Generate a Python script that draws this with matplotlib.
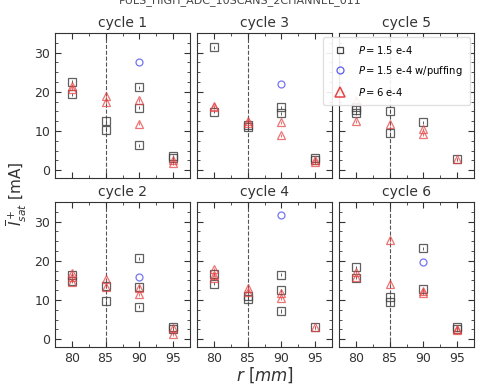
import matplotlib
matplotlib.use("Agg")
import matplotlib.pyplot as plt
from matplotlib.ticker import MultipleLocator
from matplotlib.lines import Line2D

# Data: per cycle, per series -> list of (r, value)
cycles = ["cycle 1", "cycle 3", "cycle 5", "cycle 2", "cycle 4", "cycle 6"]

sq_r = {
    "cycle 1": [80, 80, 85, 85, 90, 90, 90, 95, 95],
    "cycle 3": [80, 80, 85, 85, 90, 90, 95, 95],
    "cycle 5": [80, 80, 80, 85, 85, 90, 95],
    "cycle 2": [80, 80, 85, 85, 90, 90, 90, 95, 95],
    "cycle 4": [80, 80, 85, 85, 90, 90, 90, 95],
    "cycle 6": [80, 80, 85, 85, 90, 90, 95, 95],
}
sq_v = {
    "cycle 1": [22.6, 19.4, 12.6, 10.2, 21.1, 15.9, 6.3, 3.5, 3.0],
    "cycle 3": [31.3, 14.9, 11.5, 10.9, 16.0, 14.5, 3.0, 2.5],
    "cycle 5": [16.0, 15.3, 14.6, 15.0, 9.4, 12.2, 2.8],
    "cycle 2": [16.4, 14.9, 13.6, 9.7, 20.6, 13.4, 8.3, 3.0, 2.5],
    "cycle 4": [16.6, 14.1, 11.0, 10.2, 16.4, 12.5, 7.2, 3.0],
    "cycle 6": [18.3, 15.7, 10.8, 9.5, 23.2, 12.7, 3.0, 2.5],
}
ci_r = {c: [90] for c in cycles}
ci_r["cycle 5"] = []
ci_v = {
    "cycle 1": [27.7],
    "cycle 3": [22.1],
    "cycle 5": [],
    "cycle 2": [15.9],
    "cycle 4": [31.7],
    "cycle 6": [19.8],
}
tr_r = {
    "cycle 1": [80, 80, 85, 85, 90, 90, 95, 95],
    "cycle 3": [80, 80, 85, 85, 90, 90, 95, 95],
    "cycle 5": [80, 80, 85, 90, 90, 95],
    "cycle 2": [80, 80, 80, 85, 85, 90, 90, 95, 95],
    "cycle 4": [80, 80, 80, 85, 85, 90, 90, 95],
    "cycle 6": [80, 80, 85, 85, 90, 90, 95, 95],
}
tr_v = {
    "cycle 1": [21.5, 20.8, 18.9, 17.4, 17.9, 11.9, 2.5, 1.8],
    "cycle 3": [16.3, 16.0, 12.6, 12.0, 12.2, 8.9, 2.5, 2.0],
    "cycle 5": [18.0, 12.5, 11.7, 10.4, 9.1, 2.8],
    "cycle 2": [17.0, 15.8, 14.7, 15.3, 13.4, 13.1, 11.5, 2.8, 1.3],
    "cycle 4": [17.8, 16.4, 15.5, 13.0, 12.1, 11.7, 10.4, 3.0],
    "cycle 6": [17.2, 15.9, 25.3, 14.1, 12.3, 11.7, 2.6, 2.4],
}
series_labels = [r"$P = 1.5$ e-4", r"$P = 1.5$ e-4 w/puffing", r"$P = 6$ e-4"]

xticks = [80, 85, 90, 95]
yticks = [0, 10, 20, 30]

sq_col = "#444444"
ci_col = "#5b5bf0"
tr_col = "#e64545"

fig = plt.figure(figsize=(4.8, 3.88), dpi=100)
W, H = 480.0, 388.0
lefts = [55, 197, 339]
tops = [33, 202]
aw, ah = 135, 145

axes = []
for i, c in enumerate(cycles):
    row, col = divmod(i, 3)
    l = lefts[col]; t = tops[row]
    ax = fig.add_axes([l / W, 1 - (t + ah) / H, aw / W, ah / H])
    axes.append(ax)
    ax.axvline(85, color="#555555", ls="--", lw=0.8, zorder=0)
    ax.errorbar(sq_r[c], sq_v[c], yerr=0.4, fmt="s", ms=5.5, mfc="none",
                mec=sq_col, ecolor=sq_col, elinewidth=0.7, mew=0.9, alpha=0.85)
    ax.errorbar(ci_r[c], ci_v[c], yerr=0.0, fmt="o", ms=5, mfc="none",
                mec=ci_col, ecolor=ci_col, elinewidth=0.7, mew=0.9, alpha=0.85)
    ax.errorbar(tr_r[c], tr_v[c], yerr=0.4, fmt="^", ms=6, mfc="none",
                mec=tr_col, ecolor=tr_col, elinewidth=0.7, mew=0.9, alpha=0.75)
    ax.set_xlim(77.5, 97.5)
    ax.set_ylim(-2, 35)
    ax.set_xticks(xticks)
    ax.set_yticks(yticks)
    ax.xaxis.set_minor_locator(MultipleLocator(2.5))
    ax.yaxis.set_minor_locator(MultipleLocator(2.5))
    ax.tick_params(which="both", direction="in", top=True, right=True,
                   labelsize=9, colors="#333333")
    ax.tick_params(which="major", length=4)
    ax.tick_params(which="minor", length=2)
    for s in ax.spines.values():
        s.set_color("#333333")
    if col != 0:
        ax.set_yticklabels([])
    if row == 0:
        ax.set_xticklabels([])
    ax.set_title(c, fontsize=10, pad=4, color="#333333")

handles = [
    Line2D([], [], ls="none", marker="s", ms=5, mfc="none", mec=sq_col, mew=0.9),
    Line2D([], [], ls="none", marker="o", ms=5, mfc="none", mec=ci_col, mew=0.9),
    Line2D([], [], ls="none", marker="^", ms=6.5, mfc="none", mec=tr_col, mew=1.1),
]
axes[2].legend(handles, series_labels, loc="upper right", fontsize=7.2,
               frameon=True, handletextpad=0.8, borderpad=0.7, labelspacing=0.8,
               framealpha=0.9, edgecolor="#dddddd", borderaxespad=0.4)

fig.text(0.5, 0.998, "PULS_HIGH_ADC_10SCANS_2CHANNEL_011", ha="center", va="center",
         fontsize=8, color="#444444")
fig.text(0.035, 0.5, r"$\overline{I}^+_{sat}$ [mA]", rotation=90, ha="center",
         va="center", fontsize=11, color="#333333")
fig.text((55 + 476) / 2 / W, 1 - 375 / H, r"$r$ [$mm$]", ha="center", va="center",
         fontsize=12, color="#333333")

fig.savefig("out.png", dpi=100)
